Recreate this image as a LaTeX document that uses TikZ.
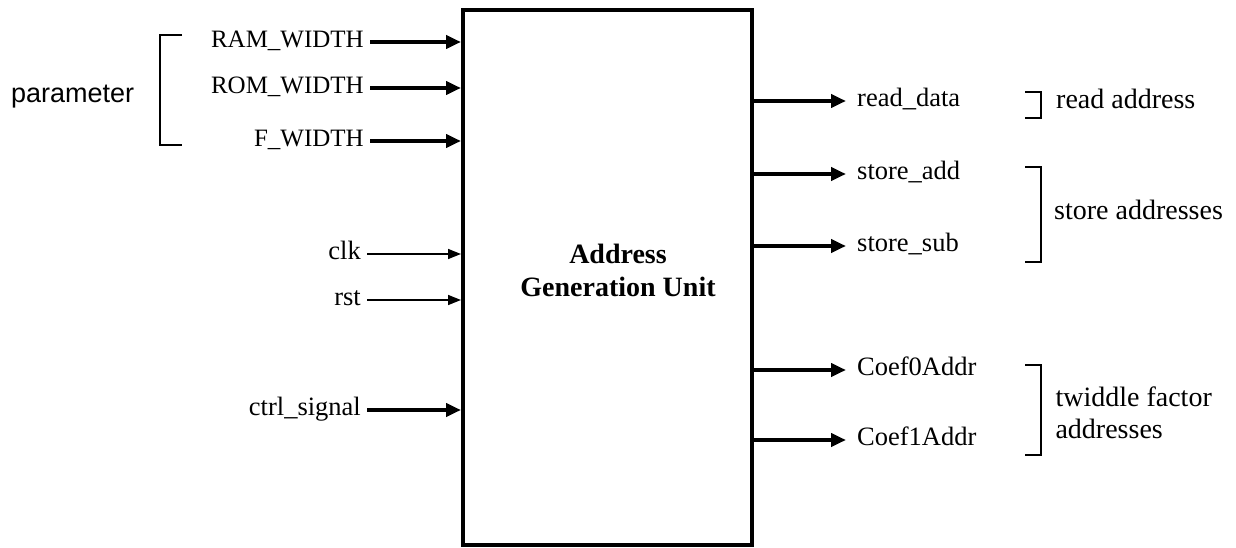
\documentclass[tikz,border=0pt]{standalone}
\usepackage{fontspec}
\setmainfont{Liberation Serif}
\newfontfamily\paramfont{Liberation Sans}
\usetikzlibrary{arrows.meta}

\tikzset{
    sig/.style={font=\fontsize{26.5}{30}\selectfont, inner xsep=6pt, inner ysep=0pt,
        text height=17pt, text depth=6pt},
    capsig/.style={sig, font=\fontsize{25}{30}\selectfont},
    outsig/.style={sig, inner xsep=11pt},
    note/.style={sig, font=\fontsize{28}{32}\selectfont},
    bus/.style={line width=4pt, -{Triangle[length=15pt,width=13pt]}},
    wire/.style={line width=1.5pt, -{Triangle[length=13pt,width=10pt]}},
    brack/.style={line width=1.5pt},
}

\begin{document}
\begin{tikzpicture}[x=1pt, y=-1pt]
    \useasboundingbox (0,0) rectangle (1236,548);
    % main block
    \node[draw, line width=4pt, minimum width=289pt, minimum height=535pt] (agu) at (607.5,277.5) {};
    \node[font=\fontsize{28}{33}\selectfont\bfseries, align=center] (title) at (618,270) {Address\\Generation Unit};

    % inputs
    \node[capsig, anchor=east] (ram) at (370,42) {RAM\_WIDTH};
    \node[capsig, anchor=east] (rom) at (370,88) {ROM\_WIDTH};
    \node[capsig, anchor=east] (fw) at (370,141) {F\_WIDTH};
    \node[sig, anchor=east] (clk) at (367,254) {clk};
    \node[sig, anchor=east] (rst) at (367,300) {rst};
    \node[sig, anchor=east] (ctrl) at (367,410) {ctrl\_signal};
    \foreach \n in {ram,rom,fw,ctrl}
        \draw[bus] (\n.east) -- (\n.east -| agu.west);
    \foreach \n in {clk,rst}
        \draw[wire] (\n.east) -- (\n.east -| agu.west);

    % parameter bracket
    \draw[brack] (182,35) -- (160,35) -- (160,145) -- (182,145);
    \node[sig, font=\paramfont\fontsize{27}{30}\selectfont, anchor=west] (param) at (5,97) {parameter};

    % outputs
    \node[outsig, anchor=west] (rd) at (846,101) {read\_data};
    \node[outsig, anchor=west] (sadd) at (846,174) {store\_add};
    \node[outsig, anchor=west] (ssub) at (846,246) {store\_sub};
    \node[outsig, anchor=west] (cz) at (846,370) {Coef0Addr};
    \node[outsig, anchor=west] (co) at (846,440) {Coef1Addr};
    \foreach \n in {rd,sadd,ssub,cz,co}
        \draw[bus] (agu.east |- \n.west) -- (\n.west);

    % output brackets
    \draw[brack] (1025,92) -- (1041,92) -- (1041,118) -- (1025,118);
    \node[note, anchor=west] (rdaddr) at (1050,103) {read address};
    \draw[brack] (1025,167) -- (1041,167) -- (1041,262) -- (1025,262);
    \node[note, anchor=west] (staddr) at (1048,214) {store addresses};
    \draw[brack] (1025,365) -- (1041,365) -- (1041,455) -- (1025,455);
    \node[font=\fontsize{28}{32}\selectfont, align=left, anchor=west] (twaddr) at (1052,413) {twiddle factor\\addresses};
\end{tikzpicture}
\end{document}
